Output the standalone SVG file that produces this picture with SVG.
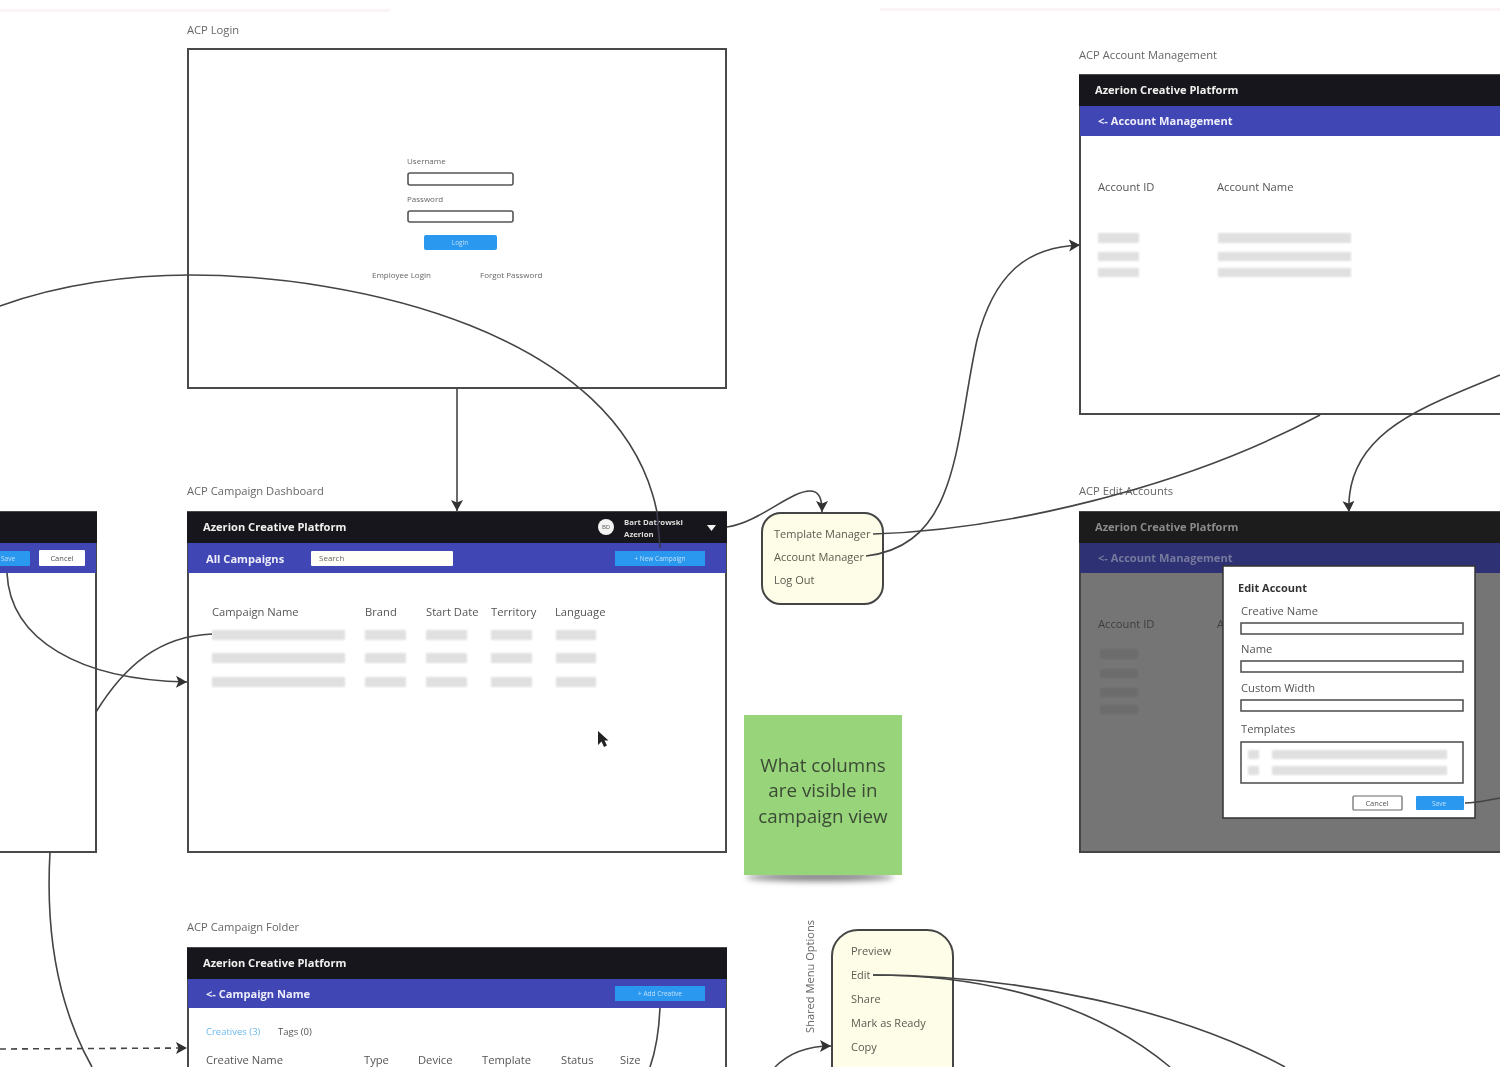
<svg xmlns="http://www.w3.org/2000/svg" width="1500" height="1067" viewBox="0 0 1500 1067">
<style>
text{font-family:"Open Sans","Noto Sans","Liberation Sans",sans-serif;fill:#555}
.frame{fill:#fff;stroke:#4a4a4a;stroke-width:2}
.top{fill:#19191b}
.bar{fill:#3f46b4}
.brand{font-size:11.1px;font-weight:700;fill:#f0f0f0}
.title{font-size:11.1px;font-weight:700;fill:#eeeefa}
.lab{font-size:11.2px;fill:#666}
.col{font-size:11.2px;fill:#555}
.small{font-size:8px;fill:#666}
.ph{fill:#e0e0e0;filter:url(#b1)}
.input{fill:#fff;stroke:#555;stroke-width:1.6}
.btn{fill:#2a98ee}
.btxt{font-size:6.5px;fill:#bfe0fb;text-anchor:middle}
.menu{fill:#fdfde8;stroke:#444;stroke-width:2}
.mi{font-size:11px;fill:#5b5b50}
.c{fill:none;stroke:#444;stroke-width:1.6}
.a{marker-end:url(#arr)}
</style>
<defs>
<filter id="b1" x="-20%" y="-50%" width="140%" height="200%"><feGaussianBlur stdDeviation="1"/></filter>
<filter id="b4" x="-20%" y="-300%" width="140%" height="700%"><feGaussianBlur stdDeviation="3"/></filter>
<filter id="soft" x="0" y="0" width="100%" height="100%"><feGaussianBlur stdDeviation="0.6"/></filter>
<marker id="arr" markerWidth="13" markerHeight="14" refX="11" refY="6.500" orient="auto" markerUnits="userSpaceOnUse"><path d="M0,0.500 L11,6.500 L0,12.500 L2.500,6.500 Z" fill="#333"/></marker>
</defs>
<rect width="1500" height="1067" fill="#fff"/>
<g filter="url(#soft)">
<g id="faint-top"><rect x="0" y="9" width="390" height="3" fill="#fbf3f5"/><rect x="880" y="8" width="620" height="3" fill="#fbf3f5"/></g>

<g id="acp-login">
<text x="187" y="34" class="lab">ACP Login</text>
<rect x="188" y="49" width="538" height="339" class="frame"/>
<text x="407" y="164" class="small">Username</text>
<rect x="408" y="173" width="105" height="12" rx="2" class="input"/>
<text x="407" y="202" class="small">Password</text>
<rect x="408" y="211" width="105" height="11" rx="2" class="input"/>
<rect x="424" y="235" width="73" height="15" rx="2" class="btn"/>
<text x="460" y="245" class="btxt">Login</text>
<text x="372" y="278" class="small">Employee Login</text>
<text x="480" y="278" class="small">Forgot Password</text>
</g>

<g id="acp-dashboard">
<text x="187" y="495" class="lab">ACP Campaign Dashboard</text>
<rect x="188" y="512" width="538" height="340" class="frame"/>
<rect x="187" y="512" width="540" height="31" class="top"/>
<rect x="188" y="543" width="538" height="30" class="bar"/>
<text x="203" y="531" class="brand">Azerion Creative Platform</text>
<circle cx="606" cy="527" r="8" fill="#f4f4f4"/>
<text x="606" y="529" font-size="6" text-anchor="middle" style="fill:#555">BD</text>
<text x="624" y="525" font-size="7.800" font-weight="700" style="fill:#ddd">Bart Datrowski</text>
<text x="624" y="537" font-size="7.800" font-weight="700" style="fill:#ddd">Azerion</text>
<path d="M707,525 H716 L711.500,531 Z" fill="#f4f4f4"/>
<text x="206" y="563" class="title">All  Campaigns</text>
<rect x="311" y="551" width="142" height="15" rx="1" fill="#fffff8"/>
<text x="319" y="561" class="small" style="fill:#666">Search</text>
<rect x="615" y="551" width="90" height="15" class="btn"/>
<text x="660" y="561" class="btxt">+ New Campaign</text>
<text x="212" y="616" class="col">Campaign Name</text>
<text x="365" y="616" class="col">Brand</text>
<text x="426" y="616" class="col">Start Date</text>
<text x="491" y="616" class="col">Territory</text>
<text x="555" y="616" class="col">Language</text>
<rect x="212" y="630" width="133" height="10" class="ph"/><rect x="365" y="630" width="41" height="10" class="ph"/><rect x="426" y="630" width="41" height="10" class="ph"/><rect x="491" y="630" width="41" height="10" class="ph"/><rect x="556" y="630" width="40" height="10" class="ph"/>
<rect x="212" y="653" width="133" height="10" class="ph"/><rect x="365" y="653" width="41" height="10" class="ph"/><rect x="426" y="653" width="41" height="10" class="ph"/><rect x="491" y="653" width="41" height="10" class="ph"/><rect x="556" y="653" width="40" height="10" class="ph"/>
<rect x="212" y="677" width="133" height="10" class="ph"/><rect x="365" y="677" width="41" height="10" class="ph"/><rect x="426" y="677" width="41" height="10" class="ph"/><rect x="491" y="677" width="41" height="10" class="ph"/><rect x="556" y="677" width="40" height="10" class="ph"/>
<path d="M598,731 V745 L601.500,741.500 L604,747 L607,745.500 L604.500,740.500 H608.500 Z" fill="#222"/>
</g>

<g id="left-partial">
<rect x="-10" y="512" width="106" height="340" class="frame"/>
<rect x="-10" y="512" width="107" height="31" class="top"/>
<rect x="-10" y="543" width="106" height="30" class="bar"/>
<rect x="-10" y="551" width="40" height="15" rx="1" class="btn"/>
<text x="8" y="561" class="btxt">Save</text>
<rect x="39" y="550" width="46" height="16" rx="1" fill="#fff"/>
<text x="62" y="561" class="btxt" style="fill:#555;font-size:7.500px">Cancel</text>
</g>

<g id="user-menu">
<rect x="762" y="513" width="121" height="91" rx="19" class="menu"/>
<text x="774" y="538" class="mi">Template Manager</text>
<text x="774" y="561" class="mi">Account Manager</text>
<text x="774" y="584" class="mi">Log Out</text>
</g>

<g id="sticky-note">
<ellipse cx="820" cy="877" rx="74" ry="4" fill="#777" filter="url(#b4)"/>
<rect x="744" y="715" width="158" height="160" fill="#97d47a"/>
<g font-size="18.800" text-anchor="middle"><text x="823" y="772" style="fill:#3a4a35">What columns</text><text x="823" y="797" style="fill:#3a4a35">are visible in</text><text x="823" y="823" style="fill:#3a4a35">campaign view</text></g>
</g>

<g id="acp-account-management">
<text x="1079" y="59" class="lab">ACP Account Management</text>
<rect x="1080" y="75" width="440" height="339" class="frame"/>
<rect x="1079" y="75" width="441" height="31" class="top"/>
<rect x="1080" y="106" width="440" height="30" class="bar"/>
<text x="1095" y="94" class="brand">Azerion Creative Platform</text>
<text x="1098" y="125" class="title">&lt;- Account Management</text>
<text x="1098" y="191" class="col">Account ID</text>
<text x="1217" y="191" class="col">Account Name</text>
<rect x="1098" y="233" width="41" height="10" class="ph"/><rect x="1218" y="233" width="133" height="10" class="ph"/>
<rect x="1098" y="252" width="41" height="9" class="ph"/><rect x="1218" y="252" width="133" height="9" class="ph"/>
<rect x="1098" y="268" width="41" height="9" class="ph"/><rect x="1218" y="268" width="133" height="9" class="ph"/>
</g>

<g id="acp-edit-accounts">
<text x="1079" y="495" class="lab">ACP Edit Accounts</text>
<rect x="1080" y="512" width="440" height="340" fill="#757575" stroke="#444" stroke-width="2"/>
<rect x="1079" y="512" width="441" height="31" fill="#1a1a1c"/>
<rect x="1080" y="543" width="440" height="30" fill="#2e3175"/>
<text x="1095" y="531" class="brand" style="fill:#8b8b8b">Azerion Creative Platform</text>
<text x="1098" y="562" class="title" style="fill:#767a9c">&lt;- Account Management</text>
<text x="1098" y="628" class="col" style="fill:#3e3e3e">Account ID</text>
<text x="1217" y="628" class="col" style="fill:#3e3e3e">A</text>
<rect x="1100" y="649" width="38" height="10" class="ph" style="fill:#6c6c6c"/>
<rect x="1100" y="669" width="38" height="9" class="ph" style="fill:#6c6c6c"/>
<rect x="1100" y="688" width="38" height="9" class="ph" style="fill:#6c6c6c"/>
<rect x="1100" y="705" width="38" height="9" class="ph" style="fill:#6c6c6c"/>
<g id="edit-account-dialog">
<rect x="1223" y="566" width="252" height="252" fill="#fff" stroke="#333" stroke-width="1.500"/>
<text x="1238" y="592" font-size="11" font-weight="700" style="fill:#333">Edit Account</text>
<text x="1241" y="615" class="col">Creative Name</text>
<rect x="1241" y="623" width="222" height="11" class="input"/>
<text x="1241" y="653" class="col">Name</text>
<rect x="1241" y="661" width="222" height="11" class="input"/>
<text x="1241" y="692" class="col">Custom Width</text>
<rect x="1241" y="700" width="222" height="11" class="input"/>
<text x="1241" y="733" class="col">Templates</text>
<rect x="1241" y="742" width="222" height="41" class="input"/>
<rect x="1248" y="750" width="11" height="9" class="ph"/><rect x="1272" y="750" width="175" height="9" class="ph"/>
<rect x="1248" y="766" width="11" height="9" class="ph"/><rect x="1272" y="766" width="175" height="9" class="ph"/>
<rect x="1353" y="796" width="49" height="14" rx="1" fill="#fff" stroke="#666" stroke-width="1.200"/>
<text x="1377" y="806" class="btxt" style="fill:#555;font-size:7.500px">Cancel</text>
<rect x="1416" y="796" width="48" height="14" rx="1" class="btn"/>
<text x="1439" y="806" class="btxt">Save</text>
</g>
</g>

<g id="acp-campaign-folder">
<text x="187" y="931" class="lab">ACP Campaign Folder</text>
<rect x="188" y="948" width="538" height="140" class="frame"/>
<rect x="187" y="948" width="540" height="31" class="top"/>
<rect x="188" y="979" width="538" height="29" class="bar"/>
<text x="203" y="967" class="brand">Azerion Creative Platform</text>
<text x="206" y="998" class="title">&lt;- Campaign Name</text>
<rect x="615" y="986" width="90" height="15" class="btn"/>
<text x="660" y="996" class="btxt">+ Add Creative</text>
<text x="206" y="1035" font-size="9.500" style="fill:#6cb8ec">Creatives (3)</text>
<text x="278" y="1035" font-size="9.500" style="fill:#555">Tags (0)</text>
<text x="206" y="1064" class="col">Creative Name</text>
<text x="364" y="1064" class="col">Type</text>
<text x="418" y="1064" class="col">Device</text>
<text x="482" y="1064" class="col">Template</text>
<text x="561" y="1064" class="col">Status</text>
<text x="620" y="1064" class="col">Size</text>
</g>

<g id="shared-menu">
<text transform="translate(814,1033) rotate(-90)" font-size="11.100" style="fill:#666">Shared Menu Options</text>
<rect x="832" y="930" width="121" height="170" rx="26" class="menu"/>
<text x="851" y="955" class="mi">Preview</text>
<text x="851" y="979" class="mi">Edit</text>
<text x="851" y="1003" class="mi">Share</text>
<text x="851" y="1027" class="mi">Mark as Ready</text>
<text x="851" y="1051" class="mi">Copy</text>
<text x="851" y="1075" class="mi">Duplicate</text>
</g>

<g id="connectors">
<path class="c" d="M0,306 C60,284 130,275 190,275 C350,275 620,330 657,512"/>
<path class="c" d="M657,512 L660,548" style="stroke:#3a3a50"/>
<path class="c a" d="M457,388 V511"/>
<path class="c a" d="M727,527 C760,522 790,491 810,491 C820,491 822,500 822,512"/>
<path class="c" d="M873,534 C1000,530 1180,490 1320,415"/>
<path class="c a" d="M866,556 C960,545 955,440 977,340 C995,270 1030,247 1080,245"/>
<path class="c a" d="M1500,375 C1430,405 1345,430 1349,512"/>
<path class="c" d="M1465,803 C1478,803 1488,800 1500,798"/>
<path class="c a" d="M7,573 C10,640 80,680 187,682"/>
<path class="c" d="M212,634 C160,636 125,665 96,712"/>
<path class="c" d="M50,852 C45,940 60,1010 92,1067"/>
<path class="c a" stroke-dasharray="6 5" d="M0,1049 L187,1048"/>
<path class="c" d="M660,1008 C659,1030 656,1050 650,1067"/>
<path class="c a" d="M775,1067 C790,1052 810,1046 831,1046"/>
<path class="c" d="M873,975 C980,975 1090,1000 1170,1067"/>
<path class="c" d="M873,975 C1020,975 1180,1010 1285,1067"/>
</g>
</g>
</svg>
